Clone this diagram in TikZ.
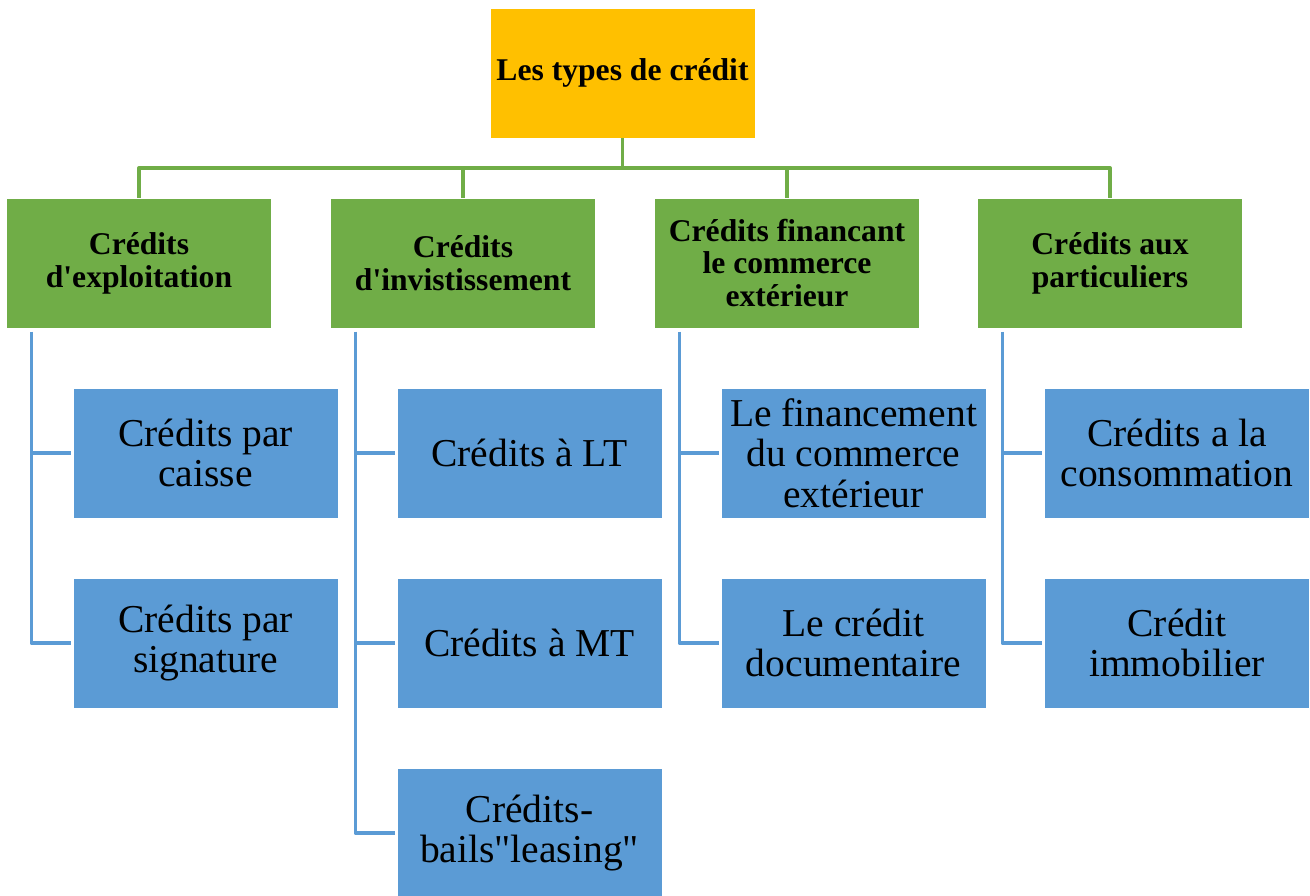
\documentclass[tikz,border=0pt]{standalone}
\usepackage{fontspec}
\setmainfont{Liberation Serif}
\definecolor{topfill}{HTML}{FFC000}
\definecolor{grfill}{HTML}{70AD47}
\definecolor{blfill}{HTML}{5B9BD5}
\begin{document}
\begin{tikzpicture}[x=.02cm,y=-.02cm,line join=round,
	box/.style={draw=white,line width=.4pt,minimum width=5.3cm,minimum height=2.6cm,align=center,inner sep=1pt},
	topbox/.style={box,fill=topfill,font=\fontsize{18}{18.7}\selectfont\bfseries},
	grbox/.style={box,fill=grfill,font=\fontsize{18}{18.7}\selectfont\bfseries},
	blbox/.style={box,fill=blfill,font=\fontsize{22.5}{23}\selectfont},
	gline/.style={draw=grfill,line width=1.9pt},
	bline/.style={draw=blfill,line width=1.9pt,shorten <=2pt,shorten >=1pt}]
	\useasboundingbox (0,0) rectangle (1310,895);
	% sommet
	\node[topbox] (top) at (622.5,73) {Les types de crédit};
	\coordinate (bus) at (0,168);
	% deuxieme niveau
	\node[grbox] (g1) at (139,263) {Crédits\\d\textquotesingle exploitation};
	\node[grbox] (g2) at (463,263) {Crédits\\d\textquotesingle invistissement};
	\node[grbox] (g3) at (787,263) {Crédits financant\\le commerce\\extérieur};
	\node[grbox] (g4) at (1110,263) {Crédits aux\\particuliers};
	% troisieme niveau
	\node[blbox] (b11) at (205.5,453) {Crédits par\\caisse};
	\node[blbox] (b12) at (205.5,643) {Crédits par\\signature};
	\node[blbox] (b21) at (529.5,453) {Crédits à LT};
	\node[blbox] (b22) at (529.5,643) {Crédits à MT};
	\node[blbox] (b23) at (529.5,833) {Crédits-\\bails\textquotedbl leasing\textquotedbl};
	\node[blbox] (b31) at (853.5,453) {Le financement\\du commerce\\extérieur};
	\node[blbox] (b32) at (853.5,643) {Le crédit\\documentaire};
	\node[blbox] (b41) at (1177,453) {Crédits a la\\consommation};
	\node[blbox] (b42) at (1177,643) {Crédit\\immobilier};
	% liens
	\draw[gline] (top.south) -- (top.south|-bus) -| (g1.north);
	\draw[gline] (top.south|-bus) -| (g2.north);
	\draw[gline] (top.south|-bus) -| (g3.north);
	\draw[gline] (top.south|-bus) -| (g4.north);
	\draw[bline] ([xshift=.5cm]g1.south west) |- (b11.west);
	\draw[bline] ([xshift=.5cm]g1.south west) |- (b12.west);
	\draw[bline] ([xshift=.5cm]g2.south west) |- (b21.west);
	\draw[bline] ([xshift=.5cm]g2.south west) |- (b22.west);
	\draw[bline] ([xshift=.5cm]g2.south west) |- (b23.west);
	\draw[bline] ([xshift=.5cm]g3.south west) |- (b31.west);
	\draw[bline] ([xshift=.5cm]g3.south west) |- (b32.west);
	\draw[bline] ([xshift=.5cm]g4.south west) |- (b41.west);
	\draw[bline] ([xshift=.5cm]g4.south west) |- (b42.west);
\end{tikzpicture}
\end{document}
